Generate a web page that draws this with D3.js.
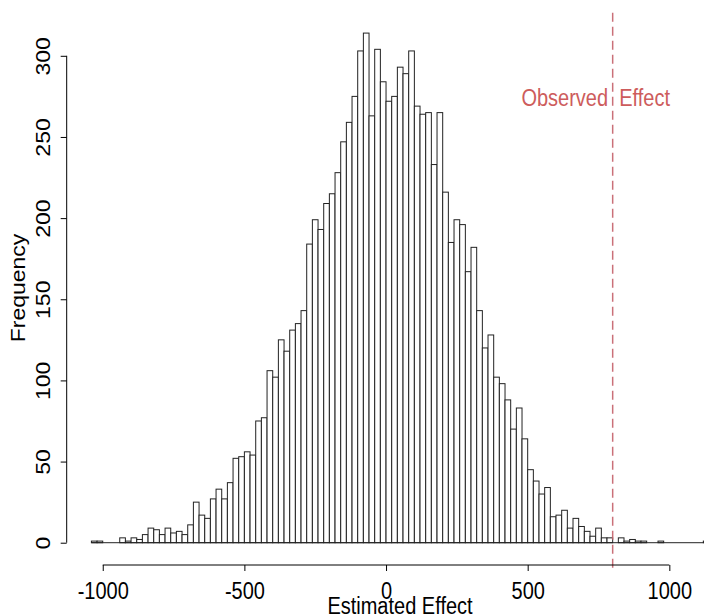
<!DOCTYPE html>
<html>
<head>
<meta charset="utf-8">
<script src="https://cdn.jsdelivr.net/npm/d3@7"></script>
<style>
  html, body { margin: 0; padding: 0; background: #fff; }
  svg { display: block; }
  text { font-family: "Liberation Sans", Arial, Helvetica, sans-serif; }
</style>
</head>
<body>
<svg id="chart" width="704" height="615"></svg>
<script>
// ---- Data ----
const binStart = -1040;
const binWidth = 20;
const counts = [
  1, 1, 0, 0, 0, 3, 1, 3, 2, 5,
  9, 8, 5, 9, 6, 7, 5, 11, 25, 17,
  15, 27, 33, 27, 37, 52, 53, 56, 54, 75,
  77, 106, 102, 125, 118, 131, 135, 143, 184, 199,
  193, 209, 215, 228, 247, 259, 275, 303, 314, 263,
  304, 284, 272, 275, 293, 289, 303, 269, 264, 265,
  233, 265, 216, 185, 199, 196, 167, 182, 143, 120,
  128, 102, 98, 88, 70, 83, 64, 45, 38, 30,
  34, 16, 17, 20, 9, 15, 10, 7, 4, 9,
  3, 3, 0, 3, 1, 2, 1, 1, 0, 0,
  1, 0, 0, 0, 0, 0, 0, 0, 1
];
const xTicks = [-1000, -500, 0, 500, 1000];
const yTicks = [0, 50, 100, 150, 200, 250, 300];
const observedEffect = 800;
const observedLabel = "Observed  Effect";
const xLabel = "Estimated Effect";
const yLabel = "Frequency";

// ---- Layout ----
const svg = d3.select("#chart");
const bins = counts.map((c, i) => ({ lo: binStart + i * binWidth, hi: binStart + (i + 1) * binWidth, c }));
const xMin = bins[0].lo, xMax = bins[bins.length - 1].hi;
const xPad = (xMax - xMin) * 0.04;
const yMax = d3.max(counts);
const yPad = yMax * 0.04;

const x = d3.scaleLinear().domain([xMin - xPad, xMax + xPad]).range([66.7, 733.7]);
const y = d3.scaleLinear().domain([-yPad, yMax + yPad]).range([563.1, 12.7]);

const red = "#cd5c5c";

// bars
svg.append("g")
  .selectAll("rect")
  .data(bins.filter(d => d.c > 0))
  .join("rect")
  .attr("x", d => x(d.lo))
  .attr("width", d => x(d.hi) - x(d.lo))
  .attr("y", d => y(d.c))
  .attr("height", d => y(0) - y(d.c))
  .attr("fill", "#fff")
  .attr("stroke", "#222")
  .attr("stroke-width", 1);

// baseline (zero-count bins)
svg.append("line")
  .attr("x1", x(xMin)).attr("x2", x(xMax))
  .attr("y1", y(0)).attr("y2", y(0))
  .attr("stroke", "#222").attr("stroke-width", 1);

// observed effect line
svg.append("line")
  .attr("x1", x(observedEffect)).attr("x2", x(observedEffect))
  .attr("y1", 12.7).attr("y2", 572)
  .attr("stroke", "#c4606a").attr("stroke-opacity", 0.9).attr("stroke-width", 1.5)
  .attr("stroke-dasharray", "9,5");

svg.append("text")
  .attr("transform", `translate(${x(740)},${y(274)}) scale(1,1.15)`)
  .attr("text-anchor", "middle")
  .attr("dy", "0.35em")
  .attr("font-size", 20)
  .attr("fill", red)
  .style("white-space", "pre")
  .attr("xml:space", "preserve")
  .text(observedLabel);

// x axis
const axisY = 565;
const gx = svg.append("g")
  .attr("transform", `translate(0,${axisY})`)
  .call(d3.axisBottom(x).tickValues(xTicks).tickSize(6).tickSizeOuter(0).tickFormat(d3.format("d")));
gx.select(".domain").remove();
gx.append("line")
  .attr("x1", x(xTicks[0])).attr("x2", x(xTicks[xTicks.length - 1]))
  .attr("y1", 0).attr("y2", 0)
  .attr("stroke", "#000");
gx.selectAll(".tick line").attr("stroke", "#000");
gx.selectAll(".tick text")
  .attr("y", 0).attr("dy", 0)
  .attr("transform", "translate(0,34) scale(1,1.15)")
  .attr("font-size", 20)
  .attr("font-family", "Liberation Sans, Arial, sans-serif")
  .attr("fill", "#000")
  .text(d => d < 0 ? "-" + Math.abs(d) : String(d));

// y axis
const gy = svg.append("g")
  .attr("transform", `translate(66.7,0)`)
  .call(d3.axisLeft(y).tickValues(yTicks).tickSize(6).tickSizeOuter(0));
gy.select(".domain").remove();
gy.append("line")
  .attr("x1", 0).attr("x2", 0)
  .attr("y1", y(yTicks[0])).attr("y2", y(yTicks[yTicks.length - 1]))
  .attr("stroke", "#000");
gy.selectAll(".tick line").attr("stroke", "#000");
gy.selectAll(".tick text")
  .attr("x", 0).attr("dy", 0)
  .attr("text-anchor", "middle")
  .attr("transform", "translate(-17,0) rotate(-90) scale(1.15,1)")
  .attr("font-size", 20)
  .attr("font-family", "Liberation Sans, Arial, sans-serif")
  .attr("fill", "#000");

// axis titles
svg.append("text")
  .attr("transform", "translate(400,614) scale(1,1.15)")
  .attr("text-anchor", "middle")
  .attr("font-size", 20)
  .text(xLabel);

svg.append("text")
  .attr("transform", "translate(25,288) rotate(-90) scale(1.15,1)")
  .attr("text-anchor", "middle")
  .attr("font-size", 20)
  .text(yLabel);
</script>
</body>
</html>
